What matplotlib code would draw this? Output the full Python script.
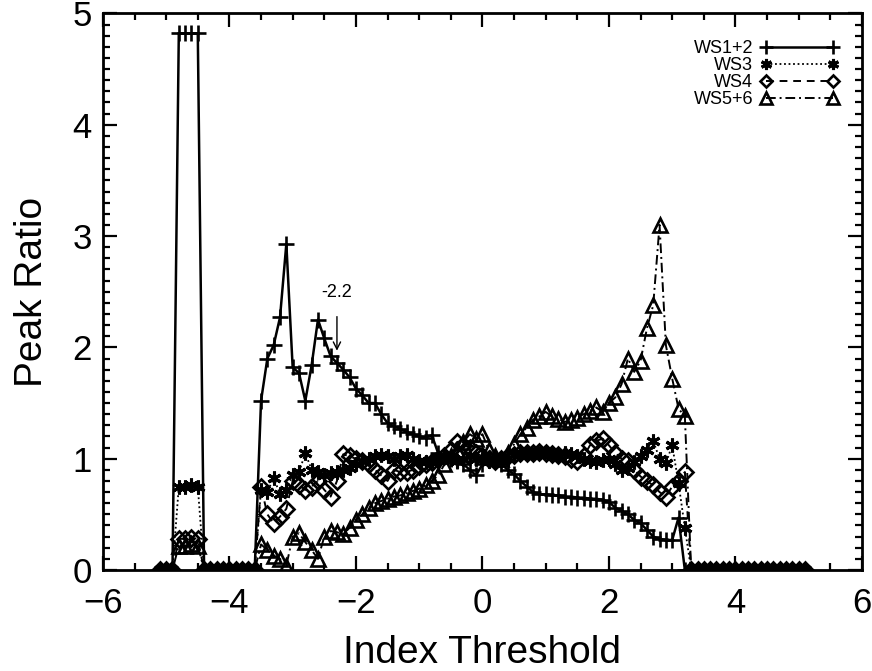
import numpy as np
import matplotlib
matplotlib.use("Agg")
import matplotlib.pyplot as plt
from matplotlib.ticker import MultipleLocator

plt.rcParams['font.family'] = ['Liberation Sans', 'DejaVu Sans']

# index threshold grid, -5.1 .. 5.1 in steps of 0.1
threshold = np.round(np.arange(-51, 52) / 10.0, 1)

ws12 = [0, 0, 0, 4.82, 4.82, 4.82, 4.82, 0, 0, 0,
        0, 0, 0, 0, 0, 0, 1.52, 1.90, 2.02, 2.27,
        2.93, 1.82, 1.77, 1.52, 1.84, 2.25, 2.08, 1.92, 1.86, 1.80,
        1.73, 1.63, 1.57, 1.50, 1.50, 1.40, 1.32, 1.29, 1.27, 1.24,
        1.22, 1.20, 1.19, 1.21, 1.05, 1.02, 1.00, 0.98, 0.95, 0.90,
        0.85, 0.95, 1.00, 0.98, 0.95, 0.90, 0.86, 0.80, 0.75, 0.70,
        0.68, 0.68, 0.67, 0.67, 0.66, 0.66, 0.65, 0.65, 0.64, 0.64,
        0.63, 0.61, 0.56, 0.53, 0.50, 0.45, 0.42, 0.36, 0.30, 0.28,
        0.27, 0.27, 0.47, 0, 0, 0, 0, 0, 0, 0,
        0, 0, 0, 0, 0, 0, 0, 0, 0, 0,
        0, 0, 0]

ws3 = [0, 0, 0, 0.75, 0.75, 0.76, 0.75, 0, 0, 0,
       0, 0, 0, 0, 0, 0, 0.72, 0.70, 0.83, 0.68,
       0.72, 0.85, 0.88, 1.05, 0.90, 0.88, 0.85, 0.87, 0.88, 0.90,
       0.92, 0.95, 0.98, 1.00, 1.02, 1.03, 1.02, 1.00, 1.02, 1.03,
       1.00, 0.98, 0.97, 0.98, 1.00, 1.02, 1.00, 0.98, 1.00, 1.02,
       1.00, 1.00, 0.98, 0.97, 0.99, 1.01, 1.03, 1.04, 1.05, 1.04,
       1.05, 1.06, 1.04, 1.03, 1.05, 1.04, 1.02, 1.00, 0.98, 0.97,
       0.99, 1.00, 0.95, 0.90, 0.92, 0.97, 1.02, 1.08, 1.16, 1.00,
       0.96, 1.12, 0.78, 0.38, 0, 0, 0, 0, 0, 0,
       0, 0, 0, 0, 0, 0, 0, 0, 0, 0,
       0, 0, 0]

ws4 = [0, 0, 0, 0.28, 0.28, 0.29, 0.28, 0, 0, 0,
       0, 0, 0, 0, 0, 0, 0.75, 0.50, 0.42, 0.48,
       0.55, 0.80, 0.76, 0.72, 0.75, 0.80, 0.72, 0.66, 0.80, 1.04,
       1.02, 1.00, 0.98, 0.95, 0.90, 0.85, 0.80, 0.90, 0.88, 0.88,
       0.90, 0.93, 0.95, 0.97, 1.00, 1.02, 1.08, 1.15, 1.12, 1.10,
       1.05, 1.02, 1.00, 0.98, 1.00, 1.02, 1.03, 1.05, 1.05, 1.05,
       1.06, 1.05, 1.04, 1.03, 1.02, 1.00, 0.98, 1.02, 1.12, 1.16,
       1.18, 1.12, 1.05, 1.00, 0.98, 0.90, 0.84, 0.80, 0.76, 0.70,
       0.66, 0.75, 0.80, 0.88, 0, 0, 0, 0, 0, 0,
       0, 0, 0, 0, 0, 0, 0, 0, 0, 0,
       0, 0, 0]

ws56 = [0, 0, 0, 0.22, 0.22, 0.23, 0.22, 0, 0, 0,
        0, 0, 0, 0, 0, 0, 0.23, 0.18, 0.13, 0.10,
        0.04, 0.30, 0.33, 0.25, 0.18, 0.10, 0.30, 0.35, 0.34, 0.32,
        0.38, 0.45, 0.50, 0.56, 0.60, 0.62, 0.64, 0.66, 0.67, 0.69,
        0.71, 0.73, 0.76, 0.80, 0.85, 0.95, 1.02, 1.08, 1.15, 1.22,
        1.18, 1.22, 1.08, 1.02, 1.00, 1.05, 1.13, 1.22, 1.28, 1.35,
        1.38, 1.42, 1.38, 1.36, 1.33, 1.35, 1.37, 1.40, 1.43, 1.46,
        1.42, 1.50, 1.55, 1.67, 1.90, 1.78, 1.88, 2.17, 2.38, 3.10,
        2.02, 1.72, 1.45, 1.38, 0, 0, 0, 0, 0, 0,
        0, 0, 0, 0, 0, 0, 0, 0, 0, 0,
        0, 0, 0]

fig = plt.figure(figsize=(8.72, 6.71), dpi=100)
ax = fig.add_axes([0.118, 0.1505, 0.8705, 0.8295])

ax.plot(threshold, ws12, color='black', ls='-', lw=1.8, marker='+',
        ms=12, mew=1.9, label='WS1+2')
ax.plot(threshold, ws3, color='black', ls=(0, (1, 1.5)), lw=1.3,
        marker=(6, 2, 0), ms=10, mew=2.2, label='WS3')
ax.plot(threshold, ws4, color='black', ls=(0, (4, 3)), lw=1.4, marker='D',
        ms=8, mew=1.9, mfc='none', label='WS4')
ax.plot(threshold, ws56, color='black', ls=(0, (5, 2, 1, 2)), lw=1.4,
        marker='^', ms=10, mew=1.9, mfc='none', label='WS5+6')

ax.annotate('-2.2', xy=(-2.3, 1.97), xytext=(-2.3, 2.49), ha='center',
            va='center', fontsize=13,
            arrowprops=dict(arrowstyle='->', color='black', lw=1,
                            shrinkA=9, shrinkB=0))

ax.set_xlim(-6, 6)
ax.set_ylim(0, 5)
ax.xaxis.set_major_locator(MultipleLocator(2))
ax.xaxis.set_minor_locator(MultipleLocator(0.5))
ax.yaxis.set_major_locator(MultipleLocator(1))
ax.yaxis.set_minor_locator(MultipleLocator(0.1))
ax.tick_params(which='both', direction='in', top=True, right=True,
               width=1.6, colors='black')
ax.tick_params(which='major', length=10, labelsize=25)
ax.tick_params(which='minor', length=5)
ax.tick_params(axis='x', pad=12)
ax.tick_params(axis='y', pad=8)
for sp in ax.spines.values():
    sp.set_linewidth(2)

ax.set_xlabel('Index Threshold', fontsize=28, labelpad=11)
ax.set_ylabel('Peak Ratio', fontsize=28, labelpad=16)

ax.legend(loc='upper right', bbox_to_anchor=(0.985, 0.975), frameon=False,
          markerfirst=False, numpoints=2, handlelength=4.3,
          handletextpad=0.4, labelspacing=0.0, fontsize=13,
          markerscale=0.8, borderpad=0.2)

fig.savefig('out.png', dpi=100)
